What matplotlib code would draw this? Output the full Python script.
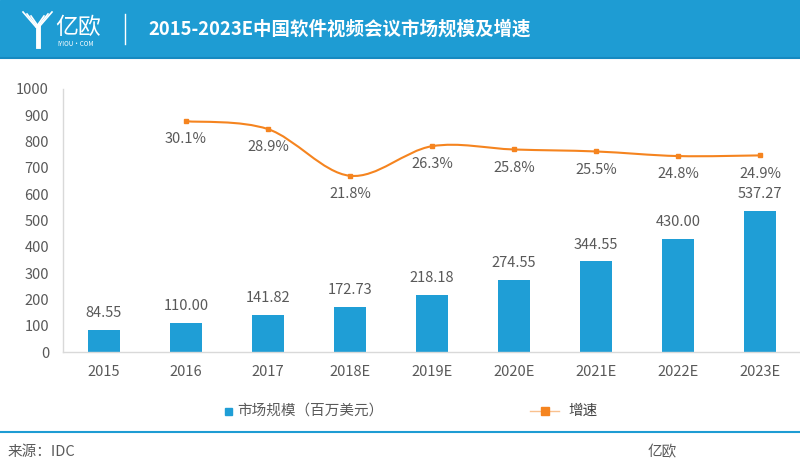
import numpy as np
import matplotlib.pyplot as plt
from matplotlib.path import Path
from matplotlib.patches import PathPatch, Rectangle
from matplotlib.lines import Line2D

plt.rcParams['font.family'] = ['Noto Sans CJK SC', 'DejaVu Sans']

# 数据
years = ['2015', '2016', '2017', '2018E', '2019E', '2020E', '2021E', '2022E', '2023E']
market = [84.55, 110.00, 141.82, 172.73, 218.18, 274.55, 344.55, 430.00, 537.27]
growth_years = ['2016', '2017', '2018E', '2019E', '2020E', '2021E', '2022E', '2023E']
growth = [30.1, 28.9, 21.8, 26.3, 25.8, 25.5, 24.8, 24.9]

BLUE = '#1e9cd3'
BAR = '#1f9ed6'
ORANGE = '#f5841f'
GRAY = '#595959'


def smooth_path(xs, ys):
    # Bezier 平滑 (Catmull-Rom), 类似 Excel 的平滑线
    pts = np.column_stack([xs, ys]).astype(float)
    verts = [pts[0]]
    codes = [Path.MOVETO]
    n = len(pts)
    for i in range(n - 1):
        p0 = pts[i - 1] if i > 0 else pts[i]
        p1 = pts[i]
        p2 = pts[i + 1]
        p3 = pts[i + 2] if i + 2 < n else pts[i + 1]
        c1 = p1 + (p2 - p0) / 6
        c2 = p2 - (p3 - p1) / 6
        verts += [c1, c2, p2]
        codes += [Path.CURVE4] * 3
    return Path(verts, codes)


fig = plt.figure(figsize=(8, 4.72), dpi=100)

# 顶部标题栏
fig.patches.append(Rectangle((0, 1 - 57 / 472), 1, 57 / 472, transform=fig.transFigure,
                             color=BLUE, zorder=0))
fig.add_artist(Line2D([0, 1], [1 - 58 / 472] * 2, color='#1589c0', lw=1.5))
fig.text(55 / 800, 1 - 27 / 472, '亿欧', color='white', fontsize=16.5, va='center')
fig.text(57 / 800, 1 - 43.5 / 472, 'IYIOU·COM', color='white', fontsize=4.5, va='center')
# 简化的logo
for dx in [0, 4, 8]:
    fig.add_artist(Line2D([(23 + dx) / 800, (36 + dx / 3) / 800],
                          [1 - (12 + dx / 2) / 472, 1 - 27 / 472], color='white', lw=1.2))
    fig.add_artist(Line2D([(52 - dx) / 800, (39 - dx / 3) / 800],
                          [1 - (12 + dx / 2) / 472, 1 - 27 / 472], color='white', lw=1.2))
fig.add_artist(Line2D([37.5 / 800] * 2, [1 - 26 / 472, 1 - 46 / 472], color='white', lw=3.5))
fig.add_artist(Line2D([125 / 800] * 2, [1 - 14 / 472, 1 - 44 / 472], color='white', lw=1))
fig.text(148 / 800, 1 - 29 / 472, '2015-2023E中国软件视频会议市场规模及增速', color='white',
         fontsize=13.3, fontweight='bold', va='center')

# 主图
ax = fig.add_axes([63 / 800, 1 - 352 / 472, 738 / 800, 263 / 472])
x = np.arange(len(years))
bars = ax.bar(x, market, width=0.39, color=BAR, zorder=2)
for xi, v in zip(x, market):
    ax.annotate(f'{v:.2f}', (xi, v), xytext=(0, 7), textcoords='offset points',
                ha='center', va='bottom', fontsize=10.5, color=GRAY)
ax.set_xlim(-0.5, len(years) - 0.5)
ax.set_ylim(0, 1000)
ax.set_yticks(range(0, 1001, 100))
ax.set_xticks(x)
ax.set_xticklabels(years)
ax.tick_params(length=0, labelsize=10.5, labelcolor=GRAY)
ax.tick_params(axis='y', pad=10)
ax.tick_params(axis='x', pad=9)
for s in ['top', 'right']:
    ax.spines[s].set_visible(False)
ax.spines['left'].set_color('#d9d9d9')
ax.spines['bottom'].set_color('#d9d9d9')
ax.spines['left'].set_linewidth(1)
ax.spines['bottom'].set_linewidth(1)

# 增速 (次坐标轴, 隐藏)
ax2 = ax.twinx()
ax2.set_ylim(-5, 35)
ax2.axis('off')
gx = [years.index(y) for y in growth_years]
ax2.add_patch(PathPatch(smooth_path(gx, growth), fill=False, edgecolor=ORANGE, lw=1.5, zorder=3))
ax2.plot(gx, growth, ls='none', marker='s', ms=2.5, color=ORANGE, zorder=4)
for xi, g in zip(gx, growth):
    ax2.annotate(f'{g:.1f}%', (xi, g), xytext=(0, -8), textcoords='offset points',
                 ha='center', va='top', fontsize=10.5, color=GRAY)

# 图例
fig.patches.append(Rectangle((225 / 800, 1 - 415 / 472), 7 / 800, 7 / 472,
                             transform=fig.transFigure, color=BAR))
fig.text(237 / 800, 1 - 411 / 472, '市场规模（百万美元）', fontsize=10.5, color=GRAY, va='center')
fig.add_artist(Line2D([530 / 800, 559 / 800], [1 - 411 / 472] * 2, color=ORANGE, lw=1,
                      alpha=0.5))
fig.add_artist(Line2D([545 / 800], [1 - 411 / 472], color=ORANGE, marker='s', ms=6, ls='none'))
fig.text(568 / 800, 1 - 411 / 472, '增速', fontsize=10.5, color='#404040', va='center')

# 底部
fig.add_artist(Line2D([0, 1], [1 - 432 / 472] * 2, color=BLUE, lw=1.5))
fig.text(8 / 800, 1 - 452 / 472, '来源：IDC', fontsize=10.5, color=GRAY, va='center')
fig.text(648 / 800, 1 - 452 / 472, '亿欧', fontsize=10.5, color=GRAY, va='center')

fig.savefig('out.png', dpi=100)
